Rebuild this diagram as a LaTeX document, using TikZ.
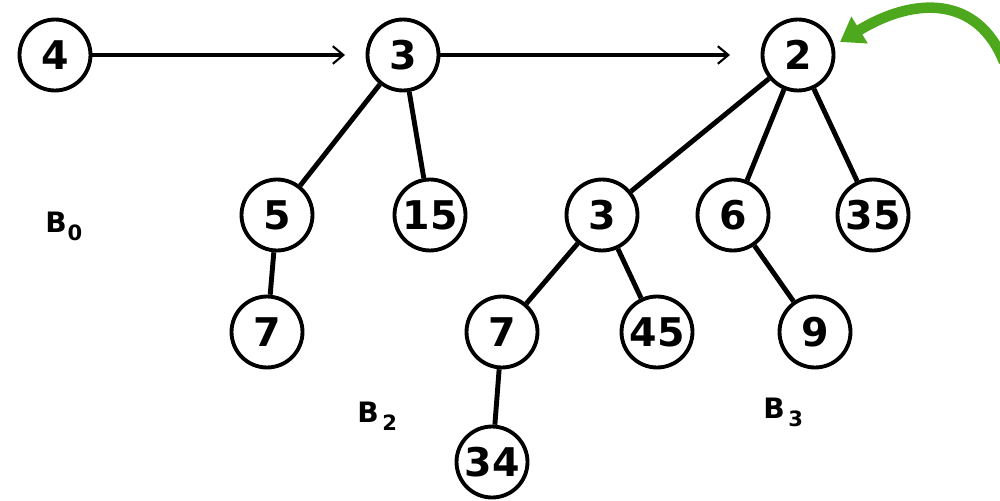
\documentclass[tikz,border=0pt]{standalone}
\usepackage{fontspec}
\setmainfont{DejaVu Sans}
\usetikzlibrary{arrows.meta}
\definecolor{arrowgreen}{RGB}{78,168,30}
\newcommand{\bsub}[1]{\raisebox{-5pt}{\fontsize{12}{14}\selectfont\bfseries #1}}
\begin{document}
\begin{tikzpicture}[x=0.02cm,y=-0.02cm,
  heapnode/.style={circle,draw,line width=2.2pt,minimum size=1.42cm,inner sep=0pt,font=\fontsize{22.5}{24}\selectfont\bfseries},
  edge/.style={line width=2.8pt},
  link/.style={line width=2.4pt,-{Straight Barb[length=6pt,width=10pt,line width=1.2pt]}},
  blabel/.style={anchor=base west,inner sep=0pt,font=\fontsize{16}{18}\selectfont\bfseries}]
\useasboundingbox (0,0) rectangle (1000,500);
\node[heapnode] (n4) at (55,55) {4};
\node[heapnode] (n3) at (403,55) {3};
\node[heapnode] (n2) at (798,55) {2};
\node[heapnode] (n5) at (277,215) {5};
\node[heapnode] (n15) at (430,215) {15};
\node[heapnode] (n3b) at (602,215) {3};
\node[heapnode] (n6) at (733,215) {6};
\node[heapnode] (n35) at (873,215) {35};
\node[heapnode] (n7a) at (267,332) {7};
\node[heapnode] (n7b) at (502,332) {7};
\node[heapnode] (n45) at (657,332) {45};
\node[heapnode] (n9) at (815,332) {9};
\node[heapnode] (n34) at (492,462) {34};
\coordinate (t1) at (345,55);
\coordinate (t2) at (730,55);
\draw[link] (n4) -- (t1);
\draw[link] (n3) -- (t2);
\draw[edge] (n3) -- (n5);
\draw[edge] (n3) -- (n15);
\draw[edge] (n5) -- (n7a);
\draw[edge] (n2) -- (n3b);
\draw[edge] (n2) -- (n6);
\draw[edge] (n2) -- (n35);
\draw[edge] (n3b) -- (n7b);
\draw[edge] (n3b) -- (n45);
\draw[edge] (n7b) -- (n34);
\draw[edge] (n6) -- (n9);
\node[blabel] (b0) at (45,232) {B\kern0.5pt\bsub{0}};
\node[blabel] (b2) at (357,422) {B\kern2pt\bsub{2}};
\node[blabel] (b3) at (763,418) {B\kern2pt\bsub{3}};
\coordinate (gs) at (1004,62);
\coordinate (ge) at (840,42);
\draw[arrowgreen,line width=6pt,-{Triangle[length=0.46cm,width=0.6cm]}] (gs) .. controls (978,-4) and (915,-4) .. (ge);
\end{tikzpicture}
\end{document}
